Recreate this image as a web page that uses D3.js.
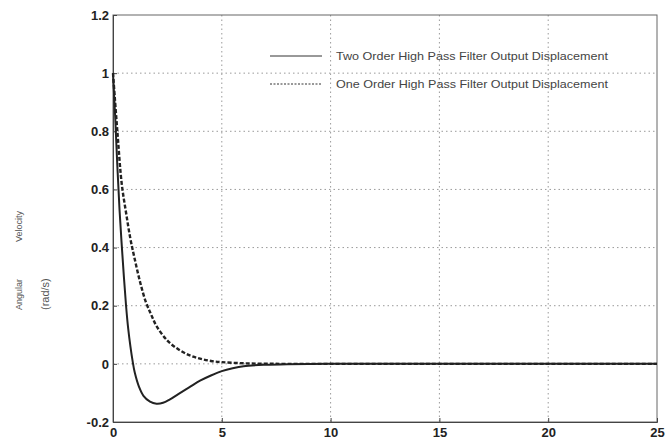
<!DOCTYPE html>
<html>
<head>
<meta charset="utf-8">
<script src="https://cdn.jsdelivr.net/npm/d3@7"></script>
<style>
  body { margin: 0; background: #fff; }
  svg { display: block; font-family: "Liberation Sans", Arial, sans-serif; }
</style>
</head>
<body>
<div id="chart"></div>
<script>
// values
var xTicks = [0, 5, 10, 15, 20, 25];
var yTicks = [-0.2, 0, 0.2, 0.4, 0.6, 0.8, 1, 1.2];
var yTickLabels = ["-0.2", "0", "0.2", "0.4", "0.6", "0.8", "1", "1.2"];

var twoOrderT = [0, 0.1, 0.2, 0.3, 0.4, 0.5, 0.6, 0.7, 0.8, 0.9, 1.0, 1.2, 1.4, 1.7, 2.0, 2.3, 2.6, 3.0, 3.5, 4.0, 4.5, 5.0, 5.5, 6.0, 7.0, 8.0, 10, 15, 20, 25];
var twoOrderV = [1, 0.85, 0.68, 0.53, 0.41, 0.30, 0.20, 0.12, 0.06, 0.01, -0.03, -0.08, -0.11, -0.13, -0.137, -0.134, -0.123, -0.104, -0.081, -0.058, -0.04, -0.025, -0.015, -0.008, -0.003, -0.001, 0, 0, 0, 0];

var oneOrderT = [0, 0.2, 0.4, 0.6, 0.8, 1.0, 1.25, 1.5, 1.75, 2.0, 2.5, 3.0, 3.5, 4.0, 4.5, 5.0, 6.0, 7.0, 8.0, 10, 15, 20, 25];
var oneOrderV = [1, 0.80, 0.62, 0.52, 0.43, 0.36, 0.28, 0.215, 0.17, 0.13, 0.08, 0.05, 0.03, 0.018, 0.01, 0.006, 0.002, 0.0005, 0, 0, 0, 0, 0];

var legendLabels = ["Two Order High Pass Filter Output Displacement", "One Order High Pass Filter Output Displacement"];

var width = 665, height = 444;
var margin = {top: 15, right: 8, bottom: 22, left: 113};
var w = width - margin.left - margin.right;
var h = height - margin.top - margin.bottom;

var svg = d3.select("#chart").append("svg")
    .attr("width", width)
    .attr("height", height);

var g = svg.append("g")
    .attr("transform", "translate(" + margin.left + "," + margin.top + ")");

var x = d3.scaleLinear().domain([0, 25]).range([0, w]);
var y = d3.scaleLinear().domain([-0.2, 1.2]).range([h, 0]);

// grid
g.append("g").selectAll("line")
    .data(xTicks.slice(1, -1))
    .enter().append("line")
    .attr("x1", function(d) { return x(d); })
    .attr("x2", function(d) { return x(d); })
    .attr("y1", 0).attr("y2", h)
    .attr("stroke", "#9a9a9a")
    .attr("stroke-width", 1)
    .attr("stroke-dasharray", "1.5,3");

g.append("g").selectAll("line")
    .data(yTicks.slice(1, -1))
    .enter().append("line")
    .attr("x1", 0).attr("x2", w)
    .attr("y1", function(d) { return y(d); })
    .attr("y2", function(d) { return y(d); })
    .attr("stroke", "#9a9a9a")
    .attr("stroke-width", 1)
    .attr("stroke-dasharray", "1.5,3");

// frame
g.append("rect")
    .attr("x", 0).attr("y", 0)
    .attr("width", w).attr("height", h)
    .attr("fill", "none")
    .attr("stroke", "#666")
    .attr("stroke-width", 1);

// axes
var xAxis = g.append("g")
    .attr("transform", "translate(0," + h + ")")
    .call(d3.axisBottom(x).tickValues(xTicks).tickSize(-4).tickPadding(6));
var yAxis = g.append("g")
    .call(d3.axisLeft(y).tickValues(yTicks).tickSize(-4).tickPadding(4)
        .tickFormat(function(d, i) { return yTickLabels[i]; }));

[xAxis, yAxis].forEach(function(a) {
    a.select(".domain").attr("stroke", "#444");
    a.selectAll(".tick line").attr("stroke", "#444");
    a.selectAll(".tick text")
        .attr("fill", "#222")
        .style("font-size", "13px")
        .style("font-weight", "bold");
});

// curves
var line = d3.line()
    .x(function(d) { return x(d[0]); })
    .y(function(d) { return y(d[1]); })
    .curve(d3.curveCatmullRom.alpha(0.5));

var oneOrder = oneOrderT.map(function(t, i) { return [t, oneOrderV[i]]; });
var twoOrder = twoOrderT.map(function(t, i) { return [t, twoOrderV[i]]; });

g.append("path")
    .datum(oneOrder)
    .attr("fill", "none")
    .attr("stroke", "#222")
    .attr("stroke-width", 2.4)
    .attr("stroke-dasharray", "4,2")
    .attr("d", line);

g.append("path")
    .datum(twoOrder)
    .attr("fill", "none")
    .attr("stroke", "#222")
    .attr("stroke-width", 2)
    .attr("d", line);

// legend
var legend = svg.append("g").attr("transform", "translate(270,56)");
legendLabels.forEach(function(label, i) {
    var row = legend.append("g").attr("transform", "translate(0," + (i * 28) + ")");
    row.append("line")
        .attr("x1", 0).attr("x2", 52)
        .attr("stroke", "#333")
        .attr("stroke-width", 1)
        .attr("stroke-dasharray", i == 0 ? null : "2,1.5");
    row.append("text")
        .attr("x", 66).attr("y", 4)
        .attr("fill", "#444")
        .style("font-size", "10.5px")
        .attr("textLength", 272)
        .attr("lengthAdjust", "spacingAndGlyphs")
        .text(label);
});

// y label, split in pieces as in the picture
svg.append("text")
    .attr("transform", "translate(22,310) rotate(-90)")
    .attr("fill", "#555")
    .style("font-size", "9px")
    .text("Angular");
svg.append("text")
    .attr("transform", "translate(22,242) rotate(-90)")
    .attr("fill", "#555")
    .style("font-size", "9px")
    .text("Velocity");
svg.append("text")
    .attr("transform", "translate(49,310) rotate(-90)")
    .attr("fill", "#555")
    .style("font-size", "11px")
    .text("(rad/s)");
</script>
</body>
</html>
